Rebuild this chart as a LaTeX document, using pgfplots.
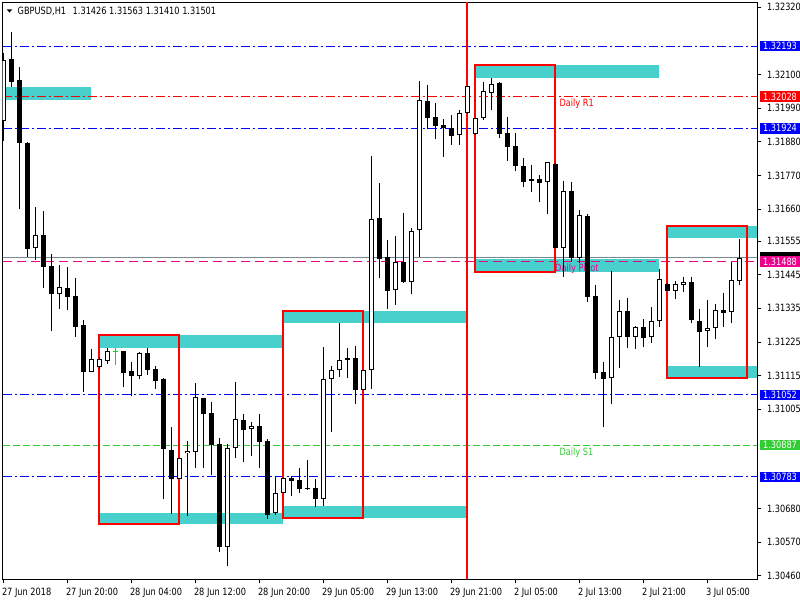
\documentclass[border=0pt]{standalone}
\usepackage{fontspec}
\setmainfont{DejaVu Sans}[FakeStretch=0.82]
\usepackage{pgfplots}
\usepackage{pgfplotstable}
\usetikzlibrary{calc}
\pgfplotsset{compat=1.18}

\definecolor{zone}{RGB}{72,209,204}
\definecolor{bidgray}{RGB}{119,136,153}
\definecolor{lvlgreen}{RGB}{50,205,50}
\definecolor{dojigreen}{RGB}{0,225,0}

% GBPUSD H1 bars: index, open, high, low, close
\pgfplotstableread{
i O H L C
0 1.31949 1.32169 1.31883 1.32146
1 1.32151 1.32240 1.32060 1.32077
2 1.32082 1.32124 1.31659 1.31875
3 1.31877 1.31880 1.31504 1.31530
4 1.31531 1.31667 1.31493 1.31574
5 1.31574 1.31653 1.31402 1.31471
6 1.31473 1.31514 1.31262 1.31383
7 1.31383 1.31478 1.31334 1.31404
8 1.31400 1.31469 1.31329 1.31373
9 1.31375 1.31433 1.31242 1.31275
10 1.31280 1.31297 1.31062 1.31128
11 1.31128 1.31201 1.31127 1.31168
12 1.31142 1.31176 1.31136 1.31168
13 1.31164 1.31205 1.31154 1.31195
15 1.31195 1.31196 1.31078 1.31124
16 1.31130 1.31159 1.31048 1.31113
17 1.31114 1.31192 1.31104 1.31189
18 1.31189 1.31206 1.31117 1.31133
19 1.31136 1.31146 1.31071 1.31097
20 1.31104 1.31108 1.30711 1.30876
21 1.30871 1.30947 1.30663 1.30777
22 1.30777 1.30845 1.30776 1.30844
23 1.30860 1.30901 1.30656 1.30867
24 1.30864 1.31091 1.30813 1.31044
25 1.31040 1.31041 1.30813 1.30990
26 1.30991 1.31028 1.30791 1.30889
27 1.30890 1.30911 1.30539 1.30555
28 1.30553 1.30890 1.30493 1.30877
29 1.30877 1.31094 1.30846 1.30972
30 1.30969 1.30989 1.30833 1.30938
31 1.30939 1.30963 1.30853 1.30949
32 1.30949 1.30990 1.30813 1.30898
33 1.30900 1.30908 1.30646 1.30660
34 1.30664 1.30782 1.30659 1.30730
35 1.30730 1.30780 1.30729 1.30779
36 1.30780 1.30787 1.30722 1.30771
37 1.30772 1.30813 1.30732 1.30745
38 1.30747 1.30839 1.30741 1.30745
39 1.30746 1.30776 1.30686 1.30710
40 1.30710 1.31208 1.30689 1.31103
41 1.31103 1.31146 1.30931 1.31132
42 1.31132 1.31288 1.31111 1.31165
43 1.31165 1.31204 1.31108 1.31171
44 1.31171 1.31212 1.31023 1.31069
45 1.31069 1.31132 1.31068 1.31132
46 1.31134 1.31833 1.31072 1.31626
47 1.31631 1.31745 1.31435 1.31497
48 1.31503 1.31559 1.31334 1.31393
49 1.31394 1.31571 1.31347 1.31486
50 1.31487 1.31646 1.31419 1.31422
51 1.31422 1.31598 1.31381 1.31587
52 1.31590 1.32079 1.31504 1.32017
53 1.32013 1.32066 1.31923 1.31959
54 1.31961 1.32007 1.31890 1.31933
55 1.31935 1.31954 1.31831 1.31924
56 1.31924 1.31968 1.31870 1.31900
57 1.31901 1.31984 1.31870 1.31974
58 1.31973 1.32062 1.31972 1.32061
59 1.31904 1.31958 1.31903 1.31957
60 1.31957 1.32075 1.31950 1.32045
61 1.32041 1.32088 1.31985 1.32068
62 1.32072 1.32077 1.31893 1.31906
63 1.31909 1.31961 1.31818 1.31864
64 1.31866 1.31909 1.31785 1.31802
65 1.31800 1.31828 1.31732 1.31749
66 1.31751 1.31804 1.31716 1.31757
67 1.31757 1.31770 1.31684 1.31746
68 1.31747 1.31813 1.31643 1.31813
69 1.31807 1.31809 1.31532 1.31533
70 1.31533 1.31752 1.31438 1.31719
71 1.31719 1.31747 1.31488 1.31499
72 1.31499 1.31658 1.31482 1.31640
73 1.31637 1.31643 1.31357 1.31373
74 1.31375 1.31411 1.31105 1.31122
75 1.31128 1.31159 1.30948 1.31105
76 1.31108 1.31457 1.31021 1.31240
77 1.31240 1.31361 1.31141 1.31325
78 1.31325 1.31368 1.31204 1.31240
79 1.31240 1.31277 1.31203 1.31273
80 1.31273 1.31300 1.31207 1.31239
81 1.31240 1.31338 1.31220 1.31292
82 1.31292 1.31464 1.31275 1.31430
83 1.31415 1.31418 1.31392 1.31393
84 1.31391 1.31424 1.31366 1.31414
85 1.31410 1.31437 1.31389 1.31420
86 1.31421 1.31437 1.31288 1.31298
87 1.31293 1.31333 1.31144 1.31258
88 1.31260 1.31362 1.31209 1.31270
89 1.31270 1.31349 1.31234 1.31328
90 1.31329 1.31385 1.31275 1.31321
91 1.31324 1.31488 1.31286 1.31427
92 1.31426 1.31563 1.31410 1.31501
}\candles

\newcommand{\lblfont}{\fontsize{10}{12}\selectfont}

\begin{document}
\begin{tikzpicture}[x=1pt,y=1pt]
\begin{axis}[
  width=754.6pt, height=577pt, scale only axis,
  xmin=-0.075, xmax=94.25,
  ymin=1.304482, ymax=1.323364,
  clip mode=individual,
  axis line style={line width=0.9pt},
  tick align=outside, major tick length=4pt,
  xtick pos=left, ytick pos=right, yticklabel pos=right,
  tick style={black, line width=0.8pt},
  xtick={0,8,16,24,32,40,48,56,64,72,80,88},
  xticklabels={27 Jun 2018,27 Jun 20:00,28 Jun 04:00,28 Jun 12:00,28 Jun 20:00,29 Jun 05:00,29 Jun 13:00,29 Jun 21:00,2 Jul 05:00,2 Jul 13:00,2 Jul 21:00,3 Jul 05:00},
  ytick={1.3232,1.321,1.3199,1.3188,1.3177,1.3166,1.31555,1.31445,1.31335,1.31225,1.31115,1.31005,1.3068,1.3057,1.3046},
  yticklabels={1.32320,1.32100,1.31990,1.31880,1.31770,1.31660,1.31555,1.31445,1.31335,1.31225,1.31115,1.31005,1.30680,1.30570,1.30460},
  tick label style={font=\lblfont},
  xticklabel style={anchor=base west, inner sep=0pt, xshift=-1.5pt, yshift=-12.5pt},
  yticklabel style={anchor=west, inner sep=0pt, xshift=5.5pt},
  lvl/.style={line width=1pt, dash pattern=on 9pt off 3pt on 2pt off 3pt},
  body/.style={mark=none, draw=none, forget plot,
    error bars/.cd, y dir=plus, y explicit, error mark=none},
]
\coordinate (bl) at (rel axis cs:0,0);

% supply / demand zones
\addplot[fill=zone, draw=none] coordinates {(0.3,1.32059)(11,1.32059)(11,1.32018)(0.3,1.32018)} -- cycle;
\addplot[fill=zone, draw=none] coordinates {(12,1.31248)(35,1.31248)(35,1.31206)(12,1.31206)} -- cycle;
\addplot[fill=zone, draw=none] coordinates {(12,1.30664)(35,1.30664)(35,1.30628)(12,1.30628)} -- cycle;
\addplot[fill=zone, draw=none] coordinates {(35,1.31326)(57.84,1.31326)(57.84,1.31288)(35,1.31288)} -- cycle;
\addplot[fill=zone, draw=none] coordinates {(35,1.30688)(57.84,1.30688)(57.84,1.30650)(35,1.30650)} -- cycle;
\addplot[fill=zone, draw=none] coordinates {(59,1.32130)(82,1.32130)(82,1.32090)(59,1.32090)} -- cycle;
\addplot[fill=zone, draw=none] coordinates {(59,1.31497)(82,1.31497)(82,1.31455)(59,1.31455)} -- cycle;
\addplot[fill=zone, draw=none] coordinates {(83,1.31603)(94.25,1.31603)(94.25,1.31566)(83,1.31566)} -- cycle;
\addplot[fill=zone, draw=none] coordinates {(83,1.31146)(94.25,1.31146)(94.25,1.31108)(83,1.31108)} -- cycle;

% pivot levels
\addplot[lvl, blue] coordinates {(-0.075,1.32193)(94.25,1.32193)};
\addplot[lvl, red] coordinates {(-0.075,1.32028)(94.25,1.32028)};
\addplot[lvl, blue] coordinates {(-0.075,1.31924)(94.25,1.31924)};
\addplot[bidgray, line width=1pt] coordinates {(-0.075,1.31501)(94.25,1.31501)};
\addplot[magenta, line width=1pt, dash pattern=on 9pt off 5pt] coordinates {(-0.075,1.31488)(94.25,1.31488)};
\addplot[lvl, blue] coordinates {(-0.075,1.31052)(94.25,1.31052)};
\addplot[lvl, lvlgreen, dash pattern=on 7pt off 3pt] coordinates {(-0.075,1.30887)(94.25,1.30887)};
\addplot[lvl, blue] coordinates {(-0.075,1.30783)(94.25,1.30783)};

% session boxes and day separator
\addplot[red, line width=2pt] coordinates {(12,1.31248)(22,1.31248)(22,1.30628)(12,1.30628)} -- cycle;
\addplot[red, line width=2pt] coordinates {(35,1.31326)(45,1.31326)(45,1.30650)(35,1.30650)} -- cycle;
\addplot[red, line width=2pt] coordinates {(59,1.32130)(69,1.32130)(69,1.31455)(59,1.31455)} -- cycle;
\addplot[red, line width=2pt] coordinates {(83,1.31603)(93,1.31603)(93,1.31108)(83,1.31108)} -- cycle;
\addplot[red, line width=2pt] coordinates {(57.93,1.304482)(57.93,1.323364)};

\node[red, anchor=base west, inner sep=0pt, font=\lblfont] at (axis cs:69.5,1.31994) {Daily R1};
\node[magenta, anchor=base west, inner sep=0pt, font=\lblfont] at (axis cs:68.96,1.31457) {Daily Pivot};
\node[lvlgreen, anchor=base west, inner sep=0pt, font=\lblfont] at (axis cs:69.5,1.30853) {Daily S1};

% candles: wicks, bodies, hollow interiors of rising bars
\addplot[body, error bar style={draw=black, line width=1pt}]
  table[x=i, y=L, y error plus expr=\thisrow{H}-\thisrow{L}] {\candles};
\addplot[body, error bar style={draw=black, line width=5pt}]
  table[x=i, y expr={min(\thisrow{O},\thisrow{C})}, y error plus expr={abs(\thisrow{C}-\thisrow{O})}] {\candles};
\addplot[body, error bar style={draw=white, line width=3pt}]
  table[x expr={(\thisrow{C}-\thisrow{O} > 0.000066) ? \thisrow{i} : nan},
        y expr={\thisrow{O}+0.0000327},
        y error plus expr={\thisrow{C}-\thisrow{O}-0.0000654}] {\candles};
% doji bar
\addplot[dojigreen, line width=1pt, forget plot] coordinates {(14,1.31151)(14,1.31205)};
\addplot[dojigreen, only marks, mark=-, mark size=2.5pt, mark options={line width=1pt}, forget plot] coordinates {(14,1.31195)};

% price labels on the scale
\begin{scope}[every node/.style={anchor=west, xshift=2pt, inner sep=0pt, minimum width=41pt, minimum height=10.5pt, text=white, font=\lblfont}]
\node[fill=blue] at (axis cs:94.25,1.32193) {1.32193};
\node[fill=red] at (axis cs:94.25,1.32028) {1.32028};
\node[fill=blue] at (axis cs:94.25,1.31924) {1.31924};
\node[fill=black] at (axis cs:94.25,1.31501) {};
\node[fill=magenta] at (axis cs:94.25,1.31488) {1.31488};
\node[fill=blue] at (axis cs:94.25,1.31052) {1.31052};
\node[fill=lvlgreen] at (axis cs:94.25,1.30887) {1.30887};
\node[fill=blue] at (axis cs:94.25,1.30783) {1.30783};
\end{scope}
\end{axis}

% page frame: 800 x 600 with the plot box at (2.7, 20.7)
\coordinate (pg) at ($(bl)+(-2.7,-20.7)$);
\fill ($(pg)+(6.7,590.7)$) -- ($(pg)+(12.3,590.7)$) -- ($(pg)+(9.5,587.4)$) -- cycle;
\node[anchor=base west, inner sep=0pt, font=\lblfont] at ($(pg)+(17.5,585.4)$) {GBPUSD,H1\hspace{4pt} 1.31426 1.31563 1.31410 1.31501};
\pgfresetboundingbox
\useasboundingbox (pg) rectangle ($(pg)+(800,600)$);
\end{tikzpicture}
\end{document}
